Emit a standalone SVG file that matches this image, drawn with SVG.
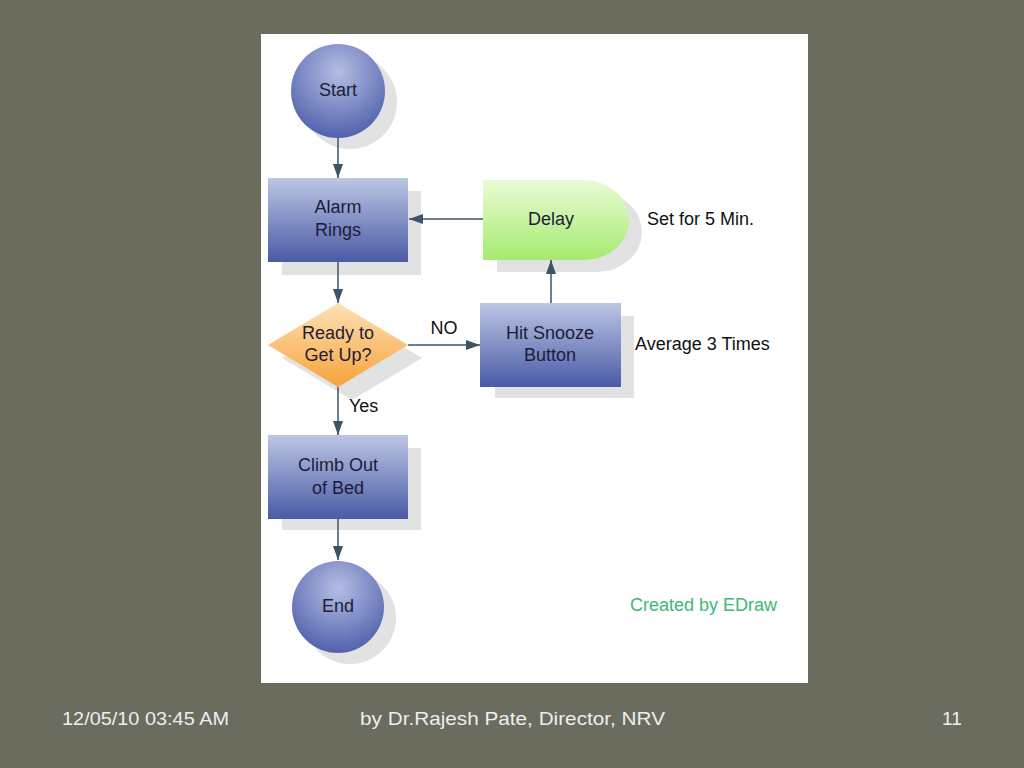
<svg xmlns="http://www.w3.org/2000/svg" width="1024" height="768" viewBox="0 0 1024 768">
<defs>
<linearGradient id="gBlue" x1="0" y1="0" x2="0" y2="1">
<stop offset="0" stop-color="#bcc6e4"/><stop offset="1" stop-color="#4a5aa6"/>
</linearGradient>
<radialGradient id="gCirc" cx="0.5" cy="0.3" r="0.75">
<stop offset="0" stop-color="#b4bee4"/><stop offset="1" stop-color="#4b5ba8"/>
</radialGradient>
<linearGradient id="gOrange" x1="0" y1="0" x2="0" y2="1">
<stop offset="0" stop-color="#fde2b6"/><stop offset="1" stop-color="#f7a23a"/>
</linearGradient>
<linearGradient id="gGreen" x1="0" y1="0" x2="0" y2="1">
<stop offset="0" stop-color="#eafcd6"/><stop offset="1" stop-color="#a6ea6e"/>
</linearGradient>
<marker id="arr" viewBox="0 0 14 10" refX="14" refY="5" markerWidth="14" markerHeight="10" markerUnits="userSpaceOnUse" orient="auto">
<path d="M0,0 L14,5 L0,10 Z" fill="#3d5366"/>
</marker>
<style>
.shadow{fill:#e2e2e2}
.lbl{font-family:"Liberation Sans",Arial,sans-serif;font-size:18px;fill:#1c1c36;text-anchor:middle}
.note{font-family:"Liberation Sans",Arial,sans-serif;font-size:18px;fill:#111}
.conn{stroke:#3d5366;stroke-width:1.5;fill:none;marker-end:url(#arr)}
.foot{font-family:"Liberation Sans",Arial,sans-serif;font-size:19px;fill:#eeeeee}
</style>
</defs>
<rect x="0" y="0" width="1024" height="768" fill="#6b6b5e"/>
<rect x="261" y="34" width="547" height="649" fill="#ffffff"/>

<g id="start">
<circle cx="350" cy="102" r="47" class="shadow"/>
<circle cx="338" cy="91" r="47" fill="url(#gCirc)"/>
<text x="338" y="96" class="lbl">Start</text>
</g>
<g id="alarm">
<rect x="282" y="191" width="139" height="84" class="shadow"/>
<rect x="268" y="178" width="140" height="84" fill="url(#gBlue)"/>
<text x="338" y="213" class="lbl">Alarm</text>
<text x="338" y="236" class="lbl">Rings</text>
</g>
<g id="delay">
<path d="M497,192 H597 A45,40 0 0 1 597,272 H497 Z" class="shadow"/>
<path d="M483,180 H584 A45,40 0 0 1 584,260 H483 Z" fill="url(#gGreen)"/>
<text x="551" y="225" class="lbl">Delay</text>
</g>
<g id="ready">
<polygon points="352,316 422,358 352,400 282,358" class="shadow"/>
<polygon points="338,303 408,345 338,387 268,345" fill="url(#gOrange)"/>
<text x="338" y="339" class="lbl">Ready to</text>
<text x="338" y="361" class="lbl">Get Up?</text>
</g>
<g id="snooze">
<rect x="495" y="316" width="139" height="82" class="shadow"/>
<rect x="480" y="303" width="141" height="84" fill="url(#gBlue)"/>
<text x="550" y="339" class="lbl">Hit Snooze</text>
<text x="550" y="361" class="lbl">Button</text>
</g>
<g id="climb">
<rect x="282" y="448" width="139" height="82" class="shadow"/>
<rect x="268" y="435" width="140" height="84" fill="url(#gBlue)"/>
<text x="338" y="471" class="lbl">Climb Out</text>
<text x="338" y="494" class="lbl">of Bed</text>
</g>
<g id="end">
<circle cx="350" cy="618" r="46" class="shadow"/>
<circle cx="338" cy="607" r="46" fill="url(#gCirc)"/>
<text x="338" y="612" class="lbl">End</text>
</g>

<g id="connectors">
<line x1="338" y1="138" x2="338" y2="178" class="conn"/>
<line x1="338" y1="262" x2="338" y2="303" class="conn"/>
<line x1="483" y1="219" x2="409" y2="219" class="conn"/>
<line x1="551" y1="303" x2="551" y2="260" class="conn"/>
<line x1="408" y1="345" x2="480" y2="345" class="conn"/>
<line x1="338" y1="387" x2="338" y2="435" class="conn"/>
<line x1="338" y1="519" x2="338" y2="560" class="conn"/>
<text x="444" y="334" class="note" text-anchor="middle">NO</text>
<text x="349" y="412" class="note">Yes</text>
</g>

<text x="647" y="225" class="note">Set for 5 Min.</text>
<text x="635" y="350" class="note">Average 3 Times</text>
<text x="630" y="611" class="note" style="fill:#3cb878">Created by EDraw</text>

<text x="62" y="725" class="foot" textLength="167" lengthAdjust="spacingAndGlyphs">12/05/10 03:45 AM</text>
<text x="360" y="725" class="foot" textLength="305" lengthAdjust="spacingAndGlyphs">by Dr.Rajesh Pate, Director, NRV</text>
<text x="942" y="725" class="foot">11</text>
</svg>
